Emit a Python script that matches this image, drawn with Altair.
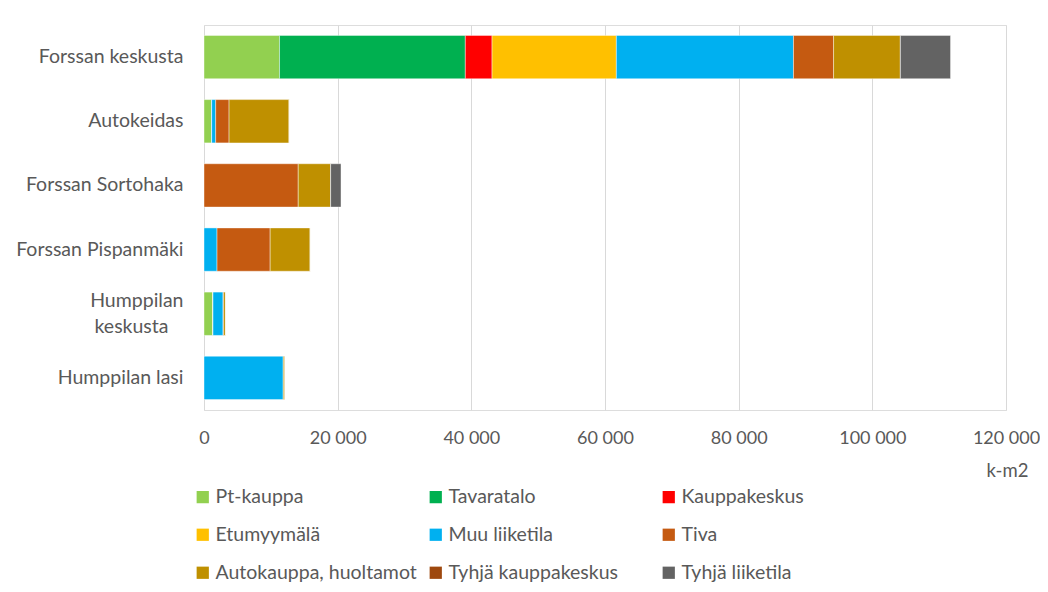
import altair as alt
import pandas as pd

sites = ["Forssan keskusta", "Autokeidas", "Forssan Sortohaka",
         "Forssan Pispanmäki", "Humppilan keskusta", "Humppilan lasi"]
categories = ["Pt-kauppa", "Tavaratalo", "Kauppakeskus",
              "Etumyymälä", "Muu liiketila", "Tiva",
              "Autokauppa, huoltamot", "Tyhjä kauppakeskus", "Tyhjä liiketila"]
colors = ["#92D050", "#00B050", "#FF0000",
          "#FFC000", "#00B0F0", "#C55A11",
          "#BF9000", "#9E480E", "#636363"]

# values per category, in site order (k-m2)
pt_kauppa = [11300, 1150, 0, 0, 1350, 0]
tavaratalo = [27800, 0, 0, 0, 0, 0]
kauppakeskus = [4000, 0, 0, 0, 0, 0]
etumyymala = [18600, 0, 0, 0, 0, 0]
muu_liiketila = [26500, 600, 0, 1950, 1500, 11870]
tiva = [6000, 2000, 14100, 7950, 100, 0]
autokauppa = [10000, 9000, 4850, 6000, 300, 250]
tyhja_kauppakeskus = [0, 0, 0, 0, 0, 0]
tyhja_liiketila = [7500, 0, 1550, 0, 0, 0]

series = [pt_kauppa, tavaratalo, kauppakeskus, etumyymala, muu_liiketila,
          tiva, autokauppa, tyhja_kauppakeskus, tyhja_liiketila]

rows = []
for ci, (cat, vals) in enumerate(zip(categories, series)):
    for site, v in zip(sites, vals):
        rows.append({"site": site, "cat": cat, "order": ci, "value": v})
df = pd.DataFrame(rows)

# legend is filled column by column: reorder so it reads row by row (3 columns)
ncol = 3
nrow = 3
leg_idx = [r * ncol + c for c in range(ncol) for r in range(nrow)]
leg_domain = [categories[i] for i in leg_idx]
leg_range = [colors[i] for i in leg_idx]

FONT = "Lato"
TXT = "#595959"
FS = 19.5

chart = alt.Chart(df).mark_bar(stroke="white", strokeWidth=0.6, strokeOpacity=0.7).encode(
    x=alt.X("value:Q", stack="zero",
            scale=alt.Scale(domain=[0, 120000], nice=False),
            axis=alt.Axis(values=[0, 20000, 40000, 60000, 80000, 100000, 120000],
                          labelExpr="replace(format(datum.value, ','), regexp(',', 'g'), ' ')",
                          grid=True, gridColor="#D9D9D9", gridWidth=1,
                          domain=False, ticks=False, labelPadding=19,
                          labelFlush=False, labelBound=False,
                          labelFontSize=18, labelColor=TXT, labelFont=FONT,
                          title="k-m2", titleFont=FONT, titleFontSize=18.5,
                          titleFontWeight="normal", titleColor=TXT,
                          titleX=803, titleY=60, titleAlign="center",
                          titleBaseline="middle")),
    y=alt.Y("site:N", sort=sites,
            scale=alt.Scale(paddingInner=0.325, paddingOuter=0.1625),
            axis=alt.Axis(title=None, domain=False, ticks=False, labelPadding=21,
                          labelFontSize=FS, labelColor=TXT, labelFont=FONT,
                          labelLimit=250,
                          labelExpr="datum.value == 'Humppilan keskusta' ? ['Humppilan', 'keskusta\u2800'] : datum.value",
                          labelLineHeight=26,
                          labelOffset={"condition": {"test": "datum.value == 'Humppilan keskusta'", "value": -13}, "value": 0})),
    color=alt.Color("cat:N",
                    scale=alt.Scale(domain=leg_domain, range=leg_range),
                    legend=alt.Legend(title=None, orient="none", legendX=-11, legendY=462,
                                      columns=3, columnPadding=9, rowPadding=17,
                                      symbolType="square", symbolSize=150,
                                      symbolStrokeWidth=0, labelFont=FONT,
                                      labelFontSize=FS, labelColor=TXT,
                                      labelOffset=3, gridAlign="all", labelLimit=300)),
    order=alt.Order("order:Q", sort="ascending"),
    tooltip=["site", "cat", "value"],
).properties(
    width=802, height=385,
    autosize=alt.AutoSizeParams(type="none"),
    padding={"left": 196, "top": 17, "right": 34, "bottom": 172},
).configure_view(strokeWidth=0, stroke="transparent").configure(background="white")

chart.save("out.html", embed_options={"renderer": "svg", "actions": False})
